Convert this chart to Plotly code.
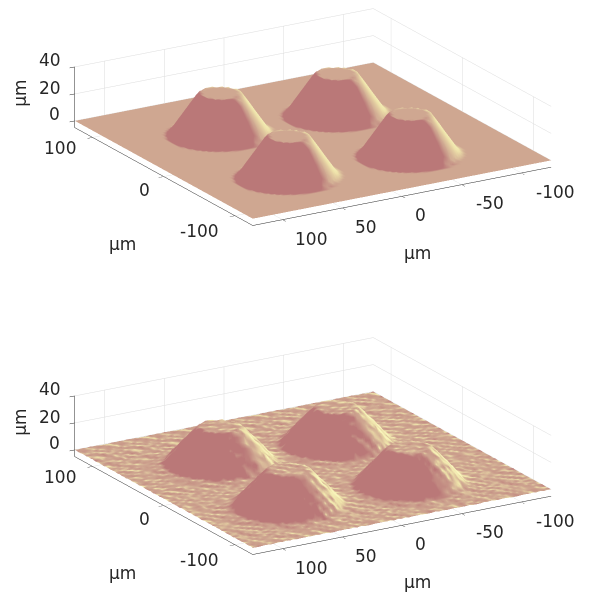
import numpy as np
import plotly.graph_objects as go

x_um = [-125 + 3.125 * i for i in range(81)]
y_um = [-125 + 3.125 * i for i in range(81)]
tick_x = [100, 50, 0, -50, -100]
tick_y = [100, 0, -100]
tick_z = [40, 20, 0]
centres_x = [49, -45, -45, 55]
centres_y = [48, 40, -61, -59]
axis_unit = "µm"

top_quadrant = [
 [30,30,30,30,30,30,26.1,21.6,17.1,12.7,8.2,3.8,0],
 [30,30,30,30,30,30,25.7,21.3,16.9,12.4,8,3.5,0],
 [30,30,30,30,30,28.8,24.6,20.4,16,11.7,7.3,3,0],
 [30,30,30,30,30,26.8,22.9,18.9,14.7,10.5,6.3,2,0],
 [30,30,30,30,27.6,24.3,20.7,16.9,13,8.9,4.8,0.6,0],
 [30,30,28.8,26.8,24.3,21.3,18,14.5,10.8,6.9,3,0,0],
 [26.1,25.7,24.6,22.9,20.7,18,15,11.7,8.2,4.6,0.8,0,0],
 [21.6,21.3,20.4,18.9,16.9,14.5,11.7,8.7,5.4,2,0,0,0],
 [17.1,16.9,16,14.7,13,10.8,8.2,5.4,2.4,0,0,0,0],
 [12.7,12.4,11.7,10.5,8.9,6.9,4.6,2,0,0,0,0,0],
 [8.2,8,7.3,6.3,4.8,3,0.8,0,0,0,0,0,0],
 [3.8,3.5,3,2,0.6,0,0,0,0,0,0,0,0],
 [0,0,0,0,0,0,0,0,0,0,0,0,0],
]
low_quadrant = [
 [27,27,27,27,27,27,24,21,18,14,11,8,5,1,.8,.5,.25,0],
 [27,27,27,27,27,27,24,21,17,14,11,8,4,1,.8,.5,.25,0],
 [27,27,27,27,27,26,23,20,17,14,10,7,4,1,.8,.5,.2,0],
 [27,27,27,27,27,25,22,19,16,13,10,6,3,1,.7,.5,.2,0],
 [27,27,27,27,25,23,20,17,15,12,9,6,2,.9,.6,.4,.2,0],
 [27,27,26,25,23,21,18,16,13,10,7,4,1,.8,.6,.3,.1,0],
 [24,24,23,22,20,18,16,14,11,8,6,3,1,.7,.5,.2,0,0],
 [21,21,20,19,17,16,14,11,9,6,4,1,.8,.6,.4,.1,0,0],
 [18,17,17,16,15,13,11,9,7,4,2,.9,.7,.5,.2,0,0,0],
 [14,14,14,13,12,10,8,6,4,1,1,.7,.5,.3,.1,0,0,0],
 [11,11,10,10,9,7,6,4,2,1,.8,.6,.4,.2,0,0,0,0],
 [8,8,7,6,6,4,3,1,.9,.7,.6,.4,.2,0,0,0,0,0],
 [5,4,4,3,2,1,1,.8,.7,.5,.4,.2,0,0,0,0,0,0],
 [1,1,1,1,.9,.8,.7,.6,.5,.3,.2,0,0,0,0,0,0,0],
 [.8,.8,.8,.7,.6,.6,.5,.4,.2,.1,0,0,0,0,0,0,0,0],
 [.5,.5,.5,.5,.4,.3,.2,.1,0,0,0,0,0,0,0,0,0,0],
 [.25,.25,.2,.2,.2,.1,0,0,0,0,0,0,0,0,0,0,0,0],
 [0,0,0,0,0,0,0,0,0,0,0,0,0,0,0,0,0,0],
]
# speckle of the lower surface, one digit per grid node, in steps of 0.06 um
speckle_rows = [
"371928465102773495920183346517293147561829084756302918475610793847561929384156102",
"826401957302618095138267049573891104757382410495238261949573026104857382610495738",
"159772846615437284901593028460759372146015937684601293728467159372840015937284601",
"604817293560081529356748172035604117293960481729156048172935204817293560181729356",
"948261937194826603759482010375948261737594826103259482610875948261037594326103759",
"273905618427890561842139056184273005618427390561842739656184273905218427390561842",
"580446392758914839275801463127580146392058014639275801963927580146392458014639275",
"316795240831679024083167552408316795240831279524083167952408916795240831679524083",
"792358104679235810467923581846792358104079235810467323581046792358504679235810467",
"145882917304768291730456829173945682917304568291730456029173045682917304568291730",
"681274950368127095036812749503681074950368527495036812749903681274950368127395036",
"429056731842905173184290567318429056131842905673184790567318429256731842905673184",
"137840962513784896251378409025137840962513784096251378409625137840162513784096251",
"850493627185049362718504736271850493627185649362718504936071850493627185049362718",
"263719058426371905842037190584263719858426371905142637190584263719058926371905842",
"794102683579410268357941026135794102683579410968357941026835294102683579410268357",
"518963420751896342775189634207518363420751896342075189934207518963420051896342075",
"902574138690257413869025041386902574138690957413869025741386302574138690257413869",
"346821075934682107593468210759346121075934682707593468210759346821975934682107593",
"675039281467503928146750392814675039881467503928146250392814675039281067503928146",
"194735028617493026581740362958174036295710483926175048392617504839261750483926175",
"530617294083271946058391746205837194260583719426058371942605837194260583719426058",
"728471956372049185637284910563128491656327849105637824910563782491056378249105637",
"061382749516138274950613827495061328749506132874950613287495061328749506132874950",
"485270916348727091634852709163485207916348520791634852079163485207916348520791634",
"917643082591364308259176430825917463082591746308259174630825917463082591746308259",
"352908174635290817463529081746352980174635298017463529801746352980174635298017463",
"640715928364071592836407159283640175928364017592836401759283640175928364017592836",
"879326041587932604158793260415879236041587923604158792360415879236041587923604158",
"213584760921358476092135847609213854760921385476092138547609213854760921385476092",
"586092713458609271345860927134586902713458690271345869027134586902713458690271345",
"731468905273146890527314689052731648905273164890527316489052731648905273164890527",
"904257316890425731689042573168904527316890452731689045273168904527316890452731689",
"128675430912867543091286754309128765430912876543091287654309128765430912876543091",
"465901827346590182734659018273465091827346509182734650918273465091827346509182734",
"692340581769234058176923405817692430581769243058176924305817692430581769243058176",
"357816209435781620943578162094357186209435718620943571862094357186209435718620943",
"810523694781052369478105236947810253694781025369478102536947810253694781025369478",
"246179358024617935802461793580246719358024671935802467193580246719358024671935802",
"973408165297340816529734081652973048165297304816529730481652973048165297304816529",
"501862937450186293745018629374501682937450168293745016829374501682937450168293745",
"684725013968472501396847250139684275013968427501396842750139684275013968427501396",
"139056742813905674281390567428139506742813950674281395067428139506742813950674281",
"726341895072634189507263418950726431895072643189507264318950726431895072643189507",
"458192063745819206374581920637458912063745891206374589120637458912063745891206374",
"062978514306297851430629785143062798514306279851430627985143062798514306279851430",
"817430269581743026958174302695817340269581734026958173402695817340269581734026958",
"395264107839526410783952641078395624107839562410783956241078395624107839562410783",
"240816973524081697352408169735240186973524018697352401869735240186973524018697352",
"671593208467159320846715932084671953208467195320846719532084671953208467195320846",
"928047635192804763519280476351928407635192840763519284076351928407635192840763519",
"153782496015378249601537824960153872496015387249601538724960153872496015387249601",
"506319872450631987245063198724506139872450613987245061398724506139872450613987245",
"784260159378426015937842601593784620159378462015937846201593784620159378462015937",
"319675842031967584203196758420319765842031976584203197658420319765842031976584203",
"640198327564019832756401983275640918327564091832756409183275640918327564091832756",
"872453016987245301698724530169872543016987254301698725430169872543016987254301698",
"095327684109532768410953276841095237684109523768410952376841095237684109523768410",
"431806597243180659724318065972431086597243108659724310865972431086597243108659724",
"268794130526879413052687941305268974130526897413052689741305268974130526897413052",
"754012983675401298367540129836754102983675410298367541029836754102983675410298367",
"183560479218356047921835604792183650479218365047921836504792183650479218365047921",
"927438106592743810659274381065927348106592734810659273481065927348106592734810659",
"546821093754682109375468210937546281093754628109375462810937546281093754628109375",
"310975648231097564823109756482310795648231079564823107956482310795648231079564823",
"689204731568920473156892047315689024731568902473156890247315689024731568902473156",
"872316590487231659048723165904872136590487213659048721365904872136590487213659048",
"054789261305478926130547892613054879261305487926130548792613054879261305487926130",
"426153978042615397804261539780426513978042651397804265139780426513978042651397804",
"791830245679183024567918302456791380245679138024567913802456791380245679138024567",
"365942817036594281703659428170365492817036549281703654928170365492817036549281703",
"108627453910862745391086274539108267453910826745391082674539108267453910826745391",
"943705126894370512689437051268943075126894307512689430751268943075126894307512689",
"527186304952718630495271863049527816304952781630495278163049527816304952781630495",
"682439715068243971506824397150682349715068234971506823497150682349715068234971506",
"230571896423057189642305718964230751896423075189642307518964230751896423075189642",
"819364052781936405278193640527819634052781963405278196340527819634052781963405278",
"475028619347502861934750286193475208619347520861934752086193475208619347520861934",
"196743285019674328501967432850196473285019647328501964732850196473285019647328501",
"358290174635829017463582901746358920174635892017463589201746358920174635892017463",
"702615938470261593847026159384702165938470216593847021659384702165938470216593847",
]
pink_scale = [[0, "rgb(186,120,120)"], [0.5, "rgb(207,167,145)"], [0.75, "rgb(238,226,170)"], [1, "rgb(250,248,190)"]]


def heights(quadrant):
    q = np.array(quadrant, dtype=float)
    tile = np.block([[q[::-1, ::-1], q[::-1, 1:]], [q[1:, ::-1], q[1:, 1:]]])
    n = len(q) - 1
    z = np.zeros((len(y_um), len(x_um)))
    for cx, cy in zip(centres_x, centres_y):
        i = int(round((cx + 125) / 3.125))
        j = int(round((cy + 125) / 3.125))
        z[j - n:j + n + 1, i - n:i + n + 1] = np.maximum(z[j - n:j + n + 1, i - n:i + n + 1], tile)
    return z


def speckle():
    m = np.array([[int(c) for c in r[:81].ljust(81, "5")] for r in speckle_rows], dtype=float)
    return (m - 4.5) * 0.06


def shade(z, k_dark, k_bright):
    gy, gx = np.gradient(z, 3.125)
    raw = 0.891 * gx - 0.454 * gy
    return np.where(raw < 0, k_dark * raw, k_bright * raw)


def surface(z, colour, scene):
    return go.Surface(x=x_um, y=y_um, z=z, surfacecolor=colour, colorscale=pink_scale, cmin=-1, cmax=1,
                      showscale=False, hoverinfo="skip", scene=scene,
                      lighting=dict(ambient=1, diffuse=0, specular=0, fresnel=0, roughness=1))


font = dict(family="DejaVu Sans", size=17, color="#262626")


def axis(rng, ticks):
    return dict(range=rng, tickvals=ticks, showticklabels=False, showbackground=False,
                gridcolor="#dcdcdc", gridwidth=1, showline=True, linecolor="#262626", linewidth=1,
                ticks="outside", ticklen=6, tickcolor="#262626", zeroline=False,
                showspikes=False, title=dict(text=""))


def label(x, y, z, text, dx, dy, angle=0):
    return dict(x=x, y=y, z=z, text=text, showarrow=False, xshift=dx, yshift=-dy, font=font, textangle=angle,
                xanchor="center", yanchor="middle")


def annotations():
    out = []
    for t, dx, dy in zip(tick_x, [28, 24, 19, 28, 34], [19, 19.5, 18.5, 18, 19]):
        out.append(label(t, -125, -5, str(t), dx, dy))
    for t, dx, dy in zip(tick_y, [-33, -19, -35], [11, 13.5, 15]):
        out.append(label(125, t, -5, str(t), dx, dy))
    for t, dx, dy in zip(tick_z, [-25, -25, -20], [-7, -6, -7]):
        out.append(label(125, 125, t, str(t), dx, dy))
    out.append(label(0, -125, -5, axis_unit, 16, 57))
    out.append(label(125, 0, -5, axis_unit, -41, 67))
    out.append(label(125, 125, 20, axis_unit, -55, -1, -90))
    return out


def scene(y0, y1):
    d = 4
    s = 2.97
    c = -0.072
    return dict(domain=dict(x=[29 / 589, 581 / 589], y=[1 - y1 / 592, 1 - y0 / 592]),
                aspectmode="manual", aspectratio=dict(x=s, y=s, z=0.185 * s),
                xaxis=axis([125, -125], tick_x), yaxis=axis([-125, 125], tick_y), zaxis=axis([-5, 40], tick_z),
                annotations=annotations(),
                camera=dict(projection=dict(type="orthographic"), up=dict(x=0, y=0, z=1),
                            center=dict(x=0, y=0, z=c),
                            eye=dict(x=-0.484 * d, y=-0.812 * d, z=0.328 * d + c)))


top_z = heights(top_quadrant)
low_base = heights(low_quadrant)
low_noise = speckle()
fig = go.Figure([surface(top_z, shade(top_z, 4, 0.85), "scene"),
                 surface(low_base + low_noise, shade(low_base, 2.2, 1.2) + shade(low_noise, 7, 7), "scene2")])
fig.update_layout(width=589, height=592, margin=dict(l=0, r=0, t=0, b=0), paper_bgcolor="white",
                  scene=scene(0, 234), scene2=scene(329, 563), font=font)
fig.write_html("out.html")
